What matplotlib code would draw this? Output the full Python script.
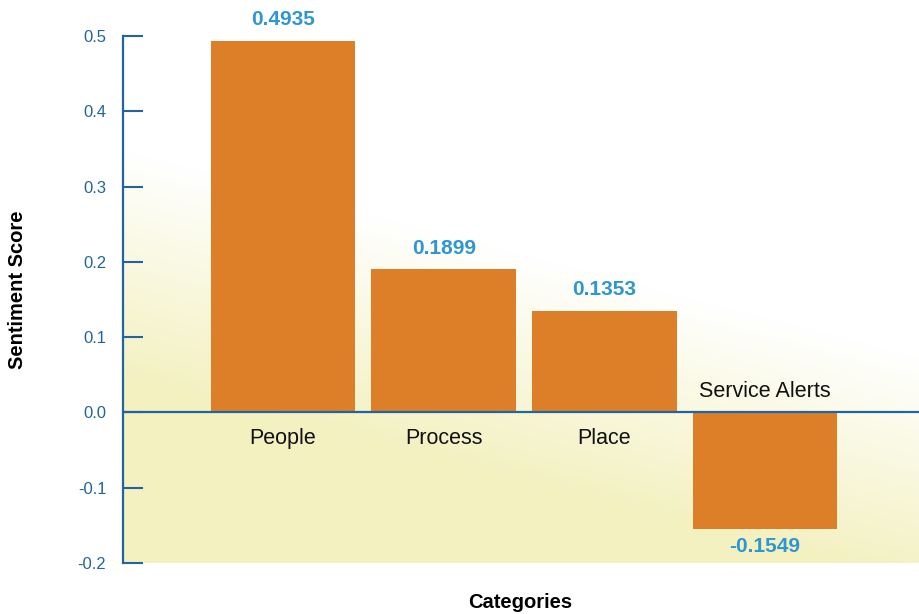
import numpy as np
import matplotlib
matplotlib.use("Agg")
import matplotlib.pyplot as plt

categories = ["People", "Process", "Place", "Service Alerts"]
scores = [0.4935, 0.1899, 0.1353, -0.1549]
score_labels = ["0.4935", "0.1899", "0.1353", "-0.1549"]
yticks = [-0.2, -0.1, 0.0, 0.1, 0.2, 0.3, 0.4, 0.5]

bar_color = "#dd7f28"
axis_blue = "#22649f"
value_blue = "#2e96d2"

plt.rcParams['font.family'] = ['Liberation Sans', 'DejaVu Sans']

fig = plt.figure(figsize=(9.19, 6.14), dpi=100)
ax = fig.add_axes([123 / 919, 51 / 614, 796 / 919, 527 / 614])

# background gradient (white top-right -> pale yellow bottom-left), in axes pixels
w, h = 796, 527
xx, yy = np.meshgrid(np.arange(w), np.arange(h))
t = ((yy + 36 - 150) - 0.26 * xx) / 230.0
t = np.clip(t, 0, 1)
white = np.array([1.0, 1.0, 1.0])
yellow = np.array([243, 241, 192]) / 255.0
grad = white[None, None, :] * (1 - t[..., None]) + yellow[None, None, :] * t[..., None]
ax.imshow(grad, extent=[0, 1, 0, 1], transform=ax.transAxes, aspect='auto', zorder=0)

x = np.arange(len(categories))
ax.bar(x, scores, width=0.9, color=bar_color, zorder=2)
ax.axhline(0, color=axis_blue, lw=1.6, zorder=3)

for xi, s, lab, cat in zip(x, scores, score_labels, categories):
    if s >= 0:
        ax.annotate(lab, (xi, s), xytext=(0, 21), textcoords='offset pixels',
                    ha='center', va='center', color=value_blue, fontsize=15,
                    fontweight='bold', annotation_clip=False)
        ax.annotate(cat, (xi, 0), xytext=(0, -26), textcoords='offset pixels',
                    ha='center', va='center', color='#111111', fontsize=15.5)
    else:
        ax.annotate(lab, (xi, s), xytext=(0, -17), textcoords='offset pixels',
                    ha='center', va='center', color=value_blue, fontsize=15,
                    fontweight='bold', annotation_clip=False)
        ax.annotate(cat, (xi, 0), xytext=(0, 21), textcoords='offset pixels',
                    ha='center', va='center', color='#111111', fontsize=15.5)

ax.set_xlim(-0.997, 3.96)
ax.set_ylim(-0.2, 0.5)
ax.set_yticks(yticks)
ax.set_yticklabels([f"{v:.1f}" for v in yticks])
ax.tick_params(axis='y', direction='in', length=14.5, width=1.5, color=axis_blue,
               labelcolor=axis_blue, labelsize=12, pad=12)
ax.set_xticks([])
for side in ['top', 'right', 'bottom']:
    ax.spines[side].set_visible(False)
ax.spines['left'].set_color(axis_blue)
ax.spines['left'].set_linewidth(1.6)

fig.text(18 / 919, 1 - 290 / 614, "Sentiment Score", rotation=90, ha='center',
         va='center', fontsize=14.5, fontweight='bold')
fig.text(520 / 919, 1 - 602 / 614, "Categories", ha='center', va='center',
         fontsize=14.5, fontweight='bold')

fig.savefig("out.png", dpi=100)
